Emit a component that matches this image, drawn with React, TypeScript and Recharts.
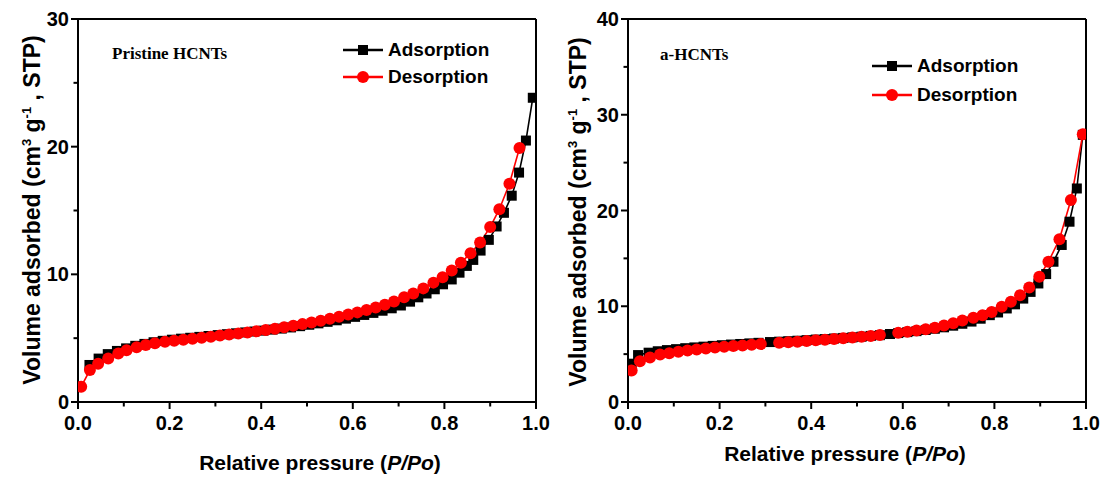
import React from 'react';
import { LineChart, Line, XAxis, YAxis, ReferenceLine } from 'recharts';

// Pristine HCNTs isotherm: [relative pressure, volume adsorbed]
const pristineAdsorption: [number, number][] = [
  [0.025, 2.9], [0.045, 3.4], [0.065, 3.75], [0.085, 4.0], [0.105, 4.2], [0.125, 4.4],
  [0.145, 4.55], [0.165, 4.68], [0.185, 4.79], [0.205, 4.88], [0.225, 4.96], [0.245, 5.03],
  [0.265, 5.1], [0.285, 5.17], [0.305, 5.24], [0.325, 5.31], [0.345, 5.38], [0.365, 5.45],
  [0.385, 5.52], [0.405, 5.59], [0.425, 5.67], [0.445, 5.75], [0.465, 5.84], [0.485, 5.94],
  [0.505, 6.05], [0.525, 6.16], [0.545, 6.28], [0.565, 6.4], [0.585, 6.53], [0.605, 6.67],
  [0.625, 6.82], [0.645, 6.98], [0.665, 7.15], [0.685, 7.34], [0.705, 7.56], [0.725, 7.86],
  [0.743, 8.2], [0.761, 8.5], [0.779, 8.83], [0.797, 9.22], [0.816, 9.6], [0.833, 10.13],
  [0.849, 10.66], [0.863, 11.13], [0.879, 11.86], [0.897, 12.7], [0.914, 13.75], [0.93, 14.82],
  [0.947, 16.16], [0.963, 17.97], [0.978, 20.48], [0.993, 23.83],
];
const pristineDesorption: [number, number][] = [
  [0.007, 1.2], [0.026, 2.5], [0.044, 3.0], [0.066, 3.4], [0.088, 3.8], [0.106, 4.05],
  [0.128, 4.28], [0.148, 4.46], [0.168, 4.6], [0.19, 4.71], [0.21, 4.8], [0.23, 4.88],
  [0.25, 4.96], [0.27, 5.04], [0.29, 5.12], [0.31, 5.2], [0.33, 5.28], [0.35, 5.36],
  [0.37, 5.45], [0.39, 5.54], [0.41, 5.64], [0.43, 5.74], [0.45, 5.85], [0.47, 5.97],
  [0.49, 6.1], [0.51, 6.23], [0.53, 6.37], [0.55, 6.52], [0.57, 6.68], [0.59, 6.85],
  [0.61, 7.02], [0.63, 7.2], [0.65, 7.4], [0.67, 7.62], [0.69, 7.88], [0.712, 8.2],
  [0.732, 8.5], [0.754, 8.9], [0.776, 9.35], [0.796, 9.77], [0.816, 10.3], [0.836, 10.9],
  [0.857, 11.65], [0.878, 12.5], [0.9, 13.7], [0.92, 15.1], [0.942, 17.1], [0.964, 19.9],
];

// a-HCNTs isotherm
const activatedAdsorption: [number, number][] = [
  [0.008, 4.0], [0.022, 4.9], [0.045, 5.15], [0.065, 5.3], [0.085, 5.42], [0.105, 5.52],
  [0.125, 5.62], [0.145, 5.7], [0.165, 5.78], [0.185, 5.86], [0.205, 5.93], [0.225, 6.0],
  [0.245, 6.06], [0.265, 6.12], [0.285, 6.18], [0.31, 6.26], [0.33, 6.3], [0.35, 6.35],
  [0.37, 6.4], [0.39, 6.46], [0.41, 6.52], [0.43, 6.57], [0.45, 6.63], [0.47, 6.69],
  [0.49, 6.75], [0.51, 6.82], [0.53, 6.9], [0.55, 6.98], [0.572, 7.1], [0.59, 7.2],
  [0.61, 7.3], [0.63, 7.4], [0.65, 7.52], [0.67, 7.65], [0.69, 7.8], [0.71, 7.97],
  [0.73, 8.17], [0.75, 8.4], [0.77, 8.7], [0.79, 9.07], [0.808, 9.35], [0.827, 9.77],
  [0.845, 10.2], [0.863, 10.8], [0.879, 11.5], [0.896, 12.38], [0.913, 13.36], [0.929, 14.65],
  [0.947, 16.4], [0.964, 18.83], [0.98, 22.3], [0.993, 27.9],
];
const activatedDesorption: [number, number][] = [
  [0.008, 3.3], [0.026, 4.25], [0.048, 4.65], [0.07, 4.95], [0.09, 5.1], [0.11, 5.25],
  [0.13, 5.37], [0.15, 5.48], [0.17, 5.58], [0.19, 5.68], [0.21, 5.76], [0.23, 5.84],
  [0.25, 5.91], [0.27, 5.98], [0.29, 6.05], [0.33, 6.18], [0.35, 6.24], [0.37, 6.3],
  [0.39, 6.37], [0.41, 6.44], [0.43, 6.51], [0.45, 6.58], [0.47, 6.65], [0.49, 6.73],
  [0.51, 6.81], [0.53, 6.9], [0.55, 7.0], [0.59, 7.22], [0.61, 7.33], [0.63, 7.46],
  [0.65, 7.6], [0.67, 7.76], [0.69, 7.98], [0.71, 8.22], [0.73, 8.5], [0.754, 8.8],
  [0.774, 9.07], [0.794, 9.41], [0.816, 9.94], [0.836, 10.46], [0.856, 11.16], [0.876, 11.97],
  [0.898, 13.08], [0.918, 14.65], [0.942, 16.99], [0.967, 21.1], [0.993, 27.97],
];

const xTicks = [0, 0.1, 0.2, 0.3, 0.4, 0.5, 0.6, 0.7, 0.8, 0.9, 1.0];
const leftYTicks = [0, 5, 10, 15, 20, 25, 30];
const rightYTicks = [0, 5, 10, 15, 20, 25, 30, 35, 40];
const seriesNames = ['Adsorption', 'Desorption'];
const panelTitles = ['Pristine HCNTs', 'a-HCNTs'];

const SANS = '"Liberation Sans", Arial, sans-serif';
const SERIF = '"Liberation Serif", "Times New Roman", serif';
const RED = '#ff0000';

const toRows = (pts: [number, number][]) => pts.map(([p, v]) => ({ p, v }));

const SquareDot = (props: any) => {
  const { cx, cy } = props;
  if (cx == null || cy == null) return null;
  return <rect x={cx - 5} y={cy - 5} width={10} height={10} fill="#000" />;
};
const CircleDot = (props: any) => {
  const { cx, cy } = props;
  if (cx == null || cy == null) return null;
  return <circle cx={cx} cy={cy} r={6} fill={RED} />;
};

const XTick = (props: any) => {
  const { x, y, payload } = props;
  const major = Math.round(payload.value * 10) % 2 === 0;
  return (
    <g>
      <line x1={x} y1={y} x2={x} y2={y + (major ? 7 : 4.5)} stroke="#000" strokeWidth={2} />
      {major && (
        <text x={x} y={y + 28} textAnchor="middle" fontFamily={SANS} fontWeight="bold" fontSize={20} fill="#000">
          {payload.value.toFixed(1)}
        </text>
      )}
    </g>
  );
};

const YTick = (props: any) => {
  const { x, y, payload } = props;
  const major = payload.value % 10 === 0;
  return (
    <g>
      <line x1={x} y1={y} x2={x - (major ? 7 : 4.5)} y2={y} stroke="#000" strokeWidth={2} />
      {major && (
        <text x={x - 9} y={y + 7} textAnchor="end" fontFamily={SANS} fontWeight="bold" fontSize={20} fill="#000">
          {payload.value}
        </text>
      )}
    </g>
  );
};

type PanelProps = {
  left: number;
  width: number;
  yAxisWidth: number;
  rightMargin: number;
  yMax: number;
  yTicks: number[];
  ads: [number, number][];
  des: [number, number][];
};

const Panel = ({ left, width, yAxisWidth, rightMargin, yMax, yTicks, ads, des }: PanelProps) => (
  <div style={{ position: 'absolute', left, top: 0, width, height: 479 }}>
    <LineChart width={width} height={479} margin={{ top: 19, right: rightMargin, bottom: 17, left: 0 }}>
      <XAxis
        type="number"
        dataKey="p"
        domain={[0, 1]}
        ticks={xTicks}
        height={60}
        tickSize={0}
        tickMargin={0}
        tick={<XTick />}
        axisLine={{ stroke: '#000', strokeWidth: 2 }}
        allowDataOverflow
      />
      <YAxis
        type="number"
        dataKey="v"
        domain={[0, yMax]}
        ticks={yTicks}
        width={yAxisWidth}
        tickSize={0}
        tickMargin={0}
        tick={<YTick />}
        axisLine={{ stroke: '#000', strokeWidth: 2 }}
        allowDataOverflow
      />
      <ReferenceLine y={yMax} stroke="#000" strokeWidth={2} />
      <ReferenceLine x={1} stroke="#000" strokeWidth={2} />
      <Line
        data={toRows(ads)}
        dataKey="v"
        stroke="#000"
        strokeWidth={1.6}
        dot={<SquareDot />}
        activeDot={false}
        isAnimationActive={false}
      />
      <Line
        data={toRows(des)}
        dataKey="v"
        stroke={RED}
        strokeWidth={1.6}
        dot={<CircleDot />}
        activeDot={false}
        isAnimationActive={false}
      />
    </LineChart>
  </div>
);

const LegendRow = ({ top, left, kind, label }: { top: number; left: number; kind: 'sq' | 'ci'; label: string }) => (
  <div style={{ position: 'absolute', top: top - 12, left, height: 24, display: 'flex', alignItems: 'center' }}>
    <svg width={42} height={24}>
      <line x1={0} y1={12} x2={40} y2={12} stroke={kind === 'sq' ? '#000' : RED} strokeWidth={2.5} />
      {kind === 'sq' ? (
        <rect x={15} y={7} width={10} height={10} fill="#000" />
      ) : (
        <circle cx={20} cy={12} r={6} fill={RED} />
      )}
    </svg>
    <span style={{ fontFamily: SANS, fontWeight: 'bold', fontSize: 19, marginLeft: 3, color: '#000' }}>{label}</span>
  </div>
);

const YLabel = ({ cx, cy }: { cx: number; cy: number }) => (
  <div
    style={{
      position: 'absolute',
      left: cx,
      top: cy,
      transform: 'translate(-50%, -50%) rotate(-90deg)',
      whiteSpace: 'nowrap',
      fontFamily: SANS,
      fontWeight: 'bold',
      fontSize: 23,
      color: '#000',
      lineHeight: 1,
    }}
  >
    Volume adsorbed (cm<sup style={{ fontSize: 13 }}>3</sup> g<sup style={{ fontSize: 13 }}>-1</sup> , STP)
  </div>
);

const XLabel = ({ cx, cy }: { cx: number; cy: number }) => (
  <div
    style={{
      position: 'absolute',
      left: cx,
      top: cy,
      transform: 'translate(-50%, -50%)',
      whiteSpace: 'nowrap',
      fontFamily: SANS,
      fontWeight: 'bold',
      fontSize: 21,
      color: '#000',
      lineHeight: 1,
    }}
  >
    Relative pressure (<i>P/Po</i>)
  </div>
);

const Title = ({ left, top, text }: { left: number; top: number; text: string }) => (
  <div style={{ position: 'absolute', left, top, fontFamily: SERIF, fontWeight: 'bold', fontSize: 17, color: '#000', whiteSpace: 'nowrap' }}>
    {text}
  </div>
);

export default function App() {
  return (
    <div style={{ position: 'absolute', left: 0, top: 0, width: 1107, height: 479, background: '#fff', overflow: 'hidden' }}>
      <Panel left={0} width={560} yAxisWidth={78} rightMargin={24} yMax={30} yTicks={leftYTicks} ads={pristineAdsorption} des={pristineDesorption} />
      <Panel left={553} width={554} yAxisWidth={75} rightMargin={21} yMax={40} yTicks={rightYTicks} ads={activatedAdsorption} des={activatedDesorption} />

      <Title left={112} top={44} text={panelTitles[0]} />
      <Title left={660} top={45} text={panelTitles[1]} />

      <LegendRow top={50} left={343} kind="sq" label={seriesNames[0]} />
      <LegendRow top={77} left={343} kind="ci" label={seriesNames[1]} />
      <LegendRow top={66} left={872} kind="sq" label={seriesNames[0]} />
      <LegendRow top={95} left={872} kind="ci" label={seriesNames[1]} />

      <YLabel cx={32} cy={210} />
      <YLabel cx={578} cy={212} />
      <XLabel cx={320} cy={462} />
      <XLabel cx={845} cy={453} />
    </div>
  );
}
